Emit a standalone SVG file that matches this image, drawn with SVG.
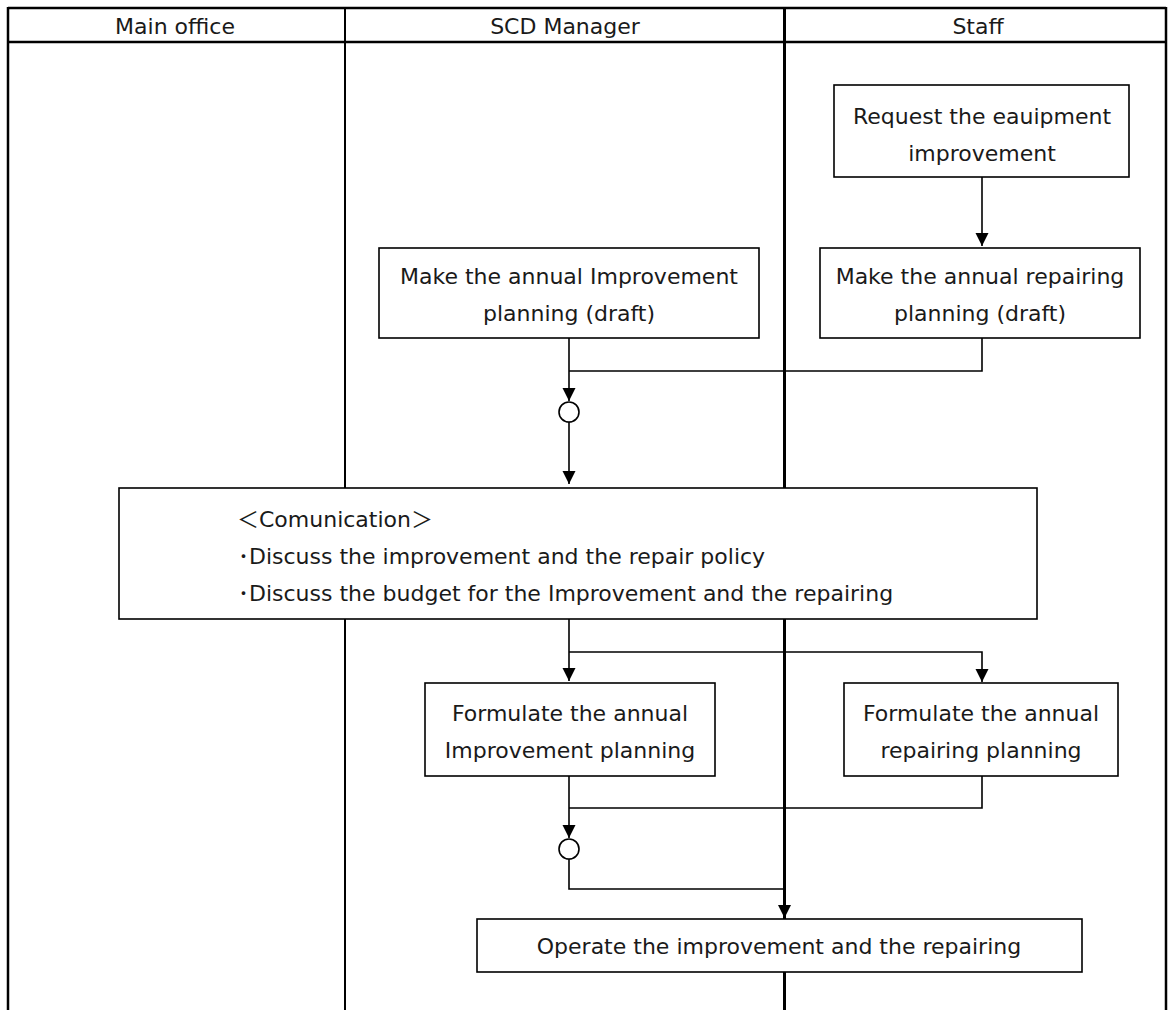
<svg xmlns="http://www.w3.org/2000/svg" width="1169" height="1010" viewBox="0 0 1169 1010">
<style>
  .t { font-family: "DejaVu Sans", "Noto Sans CJK JP", sans-serif; font-size: 22px; fill: #1a1a1a; }
  .c { text-anchor: middle; }
  .box { fill: #ffffff; stroke: #000000; stroke-width: 1.6; }
  .lane { stroke: #000000; fill: none; }
  .conn { stroke: #000000; stroke-width: 1.6; fill: none; }
  .arr { marker-end: url(#ah); }
  .junc { fill: #ffffff; stroke: #000000; stroke-width: 1.6; }
</style>
<defs>
  <marker id="ah" markerUnits="userSpaceOnUse" markerWidth="14" markerHeight="14" refX="13" refY="6.5" orient="auto">
    <path d="M0,0 L13,6.5 L0,13 z" fill="#000000"/>
  </marker>
</defs>
<rect width="1169" height="1010" fill="#ffffff"/>

<g id="lanes">
  <line class="lane" x1="8" y1="8" x2="1166" y2="8" stroke-width="2.5"/>
  <line class="lane" x1="8" y1="42" x2="1166" y2="42" stroke-width="2.5"/>
  <line class="lane" x1="8" y1="7" x2="8" y2="1010" stroke-width="2.5"/>
  <line class="lane" x1="1166" y1="7" x2="1166" y2="1010" stroke-width="2.5"/>
  <line class="lane" x1="345" y1="7" x2="345" y2="1010" stroke-width="2"/>
  <line class="lane" x1="784.5" y1="7" x2="784.5" y2="1010" stroke-width="3"/>
  <text class="t c" x="175" y="34">Main office</text>
  <text class="t c" x="565" y="34">SCD Manager</text>
  <text class="t c" x="978" y="34">Staff</text>
</g>

<g id="connectors">
  <line class="conn arr" x1="982" y1="177" x2="982" y2="246"/>
  <polyline class="conn" points="982,338 982,371 569,371"/>
  <line class="conn arr" x1="569" y1="338" x2="569" y2="401"/>
  <line class="conn arr" x1="569" y1="422" x2="569" y2="484"/>
  <line class="conn arr" x1="569" y1="619" x2="569" y2="681"/>
  <polyline class="conn arr" points="569,652 982,652 982,682"/>
  <polyline class="conn" points="982,776 982,808 569,808"/>
  <line class="conn arr" x1="569" y1="776" x2="569" y2="838"/>
  <polyline class="conn arr" points="569,859 569,889 784.5,889 784.5,918"/>
</g>

<g id="n_request">
  <rect class="box" x="834" y="85" width="295" height="92"/>
  <text class="t c" x="982" y="124">Request the eauipment</text>
  <text class="t c" x="982" y="161">improvement</text>
</g>

<g id="n_improve_draft">
  <rect class="box" x="379" y="248" width="380" height="90"/>
  <text class="t c" x="569" y="284">Make the annual Improvement</text>
  <text class="t c" x="569" y="321">planning (draft)</text>
</g>

<g id="n_repair_draft">
  <rect class="box" x="820" y="248" width="320" height="90"/>
  <text class="t c" x="980" y="284">Make the annual repairing</text>
  <text class="t c" x="980" y="321">planning (draft)</text>
</g>

<g id="n_join1">
  <circle class="junc" cx="569" cy="412" r="10"/>
</g>

<g id="n_communication">
  <rect class="box" x="119" y="488" width="918" height="131"/>
  <text class="t" x="237" y="527">＜Comunication＞</text>
  <text class="t" x="238" y="564">･Discuss the improvement and the repair policy</text>
  <text class="t" x="238" y="601">･Discuss the budget for the Improvement and the repairing</text>
</g>

<g id="n_improve_plan">
  <rect class="box" x="425" y="683" width="290" height="93"/>
  <text class="t c" x="570" y="721">Formulate the annual</text>
  <text class="t c" x="570" y="758">Improvement planning</text>
</g>

<g id="n_repair_plan">
  <rect class="box" x="844" y="683" width="274" height="93"/>
  <text class="t c" x="981" y="721">Formulate the annual</text>
  <text class="t c" x="981" y="758">repairing planning</text>
</g>

<g id="n_join2">
  <circle class="junc" cx="569" cy="849" r="10"/>
</g>

<g id="n_operate">
  <rect class="box" x="477" y="919" width="605" height="53"/>
  <text class="t c" x="779" y="954">Operate the improvement and the repairing</text>
</g>
</svg>
